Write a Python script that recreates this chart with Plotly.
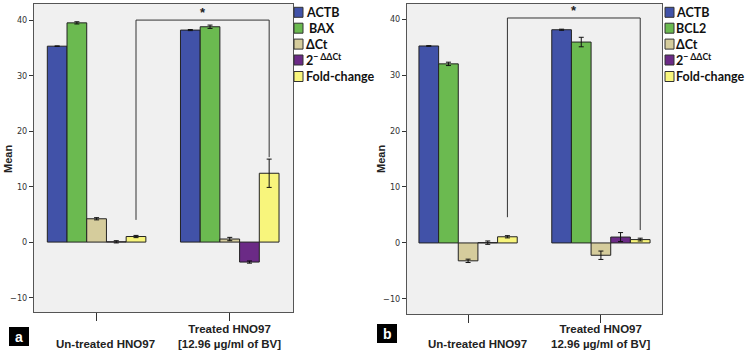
import plotly.graph_objects as go

# ---------------- data ----------------
groups = [0, 1]
group_labels_a = ["Un-treated HNO97", "Treated HNO97<br>[12.96 µg/ml of BV]"]
group_labels_b = ["Un-treated HNO97", "Treated HNO97<br>12.96 µg/ml of BV]"]

series_a = ["ACTB", " BAX", "ΔCt", "2<sup>− ΔΔCt</sup>", "Fold-change"]
series_b = ["ACTB", "BCL2", "ΔCt", "2<sup>− ΔΔCt</sup>", "Fold-change"]
colors = ["#4152A8", "#6BBA50", "#D5CC9C", "#6B2A86", "#F8F57C"]

# panel a means and errors (per series: [untreated, treated])
actb_a = [35.3, 38.2]
bax_a = [39.5, 38.8]
dct_a = [4.2, 0.55]
ddct_a = [0.05, -3.6]
fold_a = [1.0, 12.4]
actb_a_err = [0.05, 0.1]
bax_a_err = [0.2, 0.3]
dct_a_err = [0.2, 0.3]
ddct_a_err = [0.2, 0.2]
fold_a_err = [0.2, 2.55]

# panel b means and errors
actb_b = [35.2, 38.1]
bcl2_b = [32.0, 35.9]
dct_b = [-3.2, -2.2]
ddct_b = [0.05, 1.05]
fold_b = [1.1, 0.6]
actb_b_err = [0.05, 0.1]
bcl2_b_err = [0.3, 0.85]
dct_b_err = [0.3, 0.75]
ddct_b_err = [0.3, 0.8]
fold_b_err = [0.2, 0.25]

# significance brackets: [left foot, top, right foot]
sig_a = [4.0, 40.0, 15.3]
sig_b = [4.6, 40.2, 2.3]

y_ticks = [-10, 0, 10, 20, 30, 40]

# ---------------- figure ----------------
fig = go.Figure()

BARGAP = 0.26
bar_w = (1 - BARGAP) / 5
fold_offset = 2 * bar_w

def add_panel(vals, errs, names, xa, ya):
    for i, (v, e, n) in enumerate(zip(vals, errs, names)):
        fig.add_trace(go.Bar(
            x=groups, y=v, name=n, xaxis=xa, yaxis=ya,
            marker=dict(color=colors[i], line=dict(color="#222222", width=1)),
            error_y=dict(type="data", array=e, color="#111111", thickness=1, width=2.5),
            showlegend=False,
        ))

vals_a = [actb_a, bax_a, dct_a, ddct_a, fold_a]
errs_a = [actb_a_err, bax_a_err, dct_a_err, ddct_a_err, fold_a_err]
vals_b = [actb_b, bcl2_b, dct_b, ddct_b, fold_b]
errs_b = [actb_b_err, bcl2_b_err, dct_b_err, ddct_b_err, fold_b_err]

add_panel(vals_a, errs_a, series_a, "x", "y")
add_panel(vals_b, errs_b, series_b, "x2", "y2")

W, H = 750, 356
def px(x):
    return x / W
def py(y):
    return 1 - y / H

axis_common = dict(showgrid=False, zeroline=False, showline=True, mirror=True,
                   linecolor="#555555", linewidth=1)
tickfont = dict(family="DejaVu Sans Condensed, Liberation Sans Narrow, Arial", size=9, color="#333333")

fig.update_layout(
    width=W, height=H,
    margin=dict(l=0, r=0, t=0, b=0),
    paper_bgcolor="white",
    plot_bgcolor="#F0F0F0",
    barmode="group", bargap=BARGAP, bargroupgap=0,
    showlegend=False,
    xaxis=dict(domain=[px(34), px(293)], range=[-0.47, 1.475], anchor="y",
               tickvals=groups, showticklabels=False, ticks="outside", ticklen=8,
               tickcolor="#333333", **axis_common),
    yaxis=dict(domain=[py(312), py(4)], range=[-12.6, 42.9], anchor="x",
               tickvals=y_ticks, ticks="outside", ticklen=4, tickcolor="#333333",
               tickfont=tickfont, **axis_common),
    xaxis2=dict(domain=[px(407), px(662)], range=[-0.46, 1.46], anchor="y2",
                tickvals=groups, showticklabels=False, ticks="outside", ticklen=8,
                tickcolor="#333333", **axis_common),
    yaxis2=dict(domain=[py(314), py(4)], range=[-12.7, 42.7], anchor="x2",
                tickvals=y_ticks, ticks="outside", ticklen=4, tickcolor="#333333",
                tickfont=tickfont, **axis_common),
)

# significance brackets
for xr, yr, s in [("x", "y", sig_a), ("x2", "y2", sig_b)]:
    xl = groups[0] + fold_offset
    xrr = groups[1] + fold_offset
    fig.add_shape(type="path", xref=xr, yref=yr,
                  path=f"M {xl},{s[0]} L {xl},{s[1]} L {xrr},{s[1]} L {xrr},{s[2]}",
                  line=dict(color="#333333", width=1))
    fig.add_annotation(x=(xl + xrr) / 2, y=s[1], xref=xr, yref=yr, text="<b>*</b>",
                       showarrow=False, yanchor="bottom", yshift=-2,
                       font=dict(family="Liberation Sans, Arial", size=13, color="#222222"))

# x tick labels (bottom-aligned)
lab_font = dict(family="Liberation Sans, Arial", size=11.5, color="#222222")
for xr, labels, shifts in [("x", group_labels_a, [9, 0]), ("x2", group_labels_b, [9, 0])]:
    for g, lab, sh in zip(groups, labels, shifts):
        fig.add_annotation(x=g, y=py(352), xref=xr, yref="paper", text=f"<b>{lab}</b>",
                           showarrow=False, yanchor="bottom", xanchor="center", xshift=sh,
                           font=lab_font, align="center")

# y axis titles
for xpos in [8, 381]:
    fig.add_annotation(x=px(xpos), y=py(159), xref="paper", yref="paper", text="<b>Mean</b>",
                       textangle=-90, showarrow=False, xanchor="center", yanchor="middle",
                       font=dict(family="Liberation Sans, Arial", size=11, color="#222222"))

# legends
leg_rows = [12.3, 28.2, 44.1, 60.0, 76.5]
for names, sq_x, tx in [(series_a, 294, 306), (series_b, 665, 676)]:
    for i, n in enumerate(names):
        yc = leg_rows[i]
        fig.add_shape(type="rect", xref="paper", yref="paper",
                      x0=px(sq_x), x1=px(sq_x + 9), y0=py(yc + 5), y1=py(yc - 5),
                      fillcolor=colors[i], line=dict(color="#333333", width=1))
        fig.add_annotation(x=px(tx), y=py(yc), xref="paper", yref="paper", text=f"<b>{n}</b>",
                           showarrow=False, xanchor="left", yanchor="middle", xshift=-2,
                           font=dict(family="Lato, Carlito, Arial", size=12.5, color="#111111"))

# panel letters
for letter, x0, y0 in [("a", 9, 327), ("b", 377, 324)]:
    fig.add_shape(type="rect", xref="paper", yref="paper",
                  x0=px(x0), x1=px(x0 + 20), y0=py(y0 + 19), y1=py(y0),
                  fillcolor="black", line=dict(width=0))
    fig.add_annotation(x=px(x0 + 10), y=py(y0 + 9.5), xref="paper", yref="paper",
                       text=f"<b>{letter}</b>", showarrow=False, xanchor="center", yanchor="middle",
                       font=dict(family="Liberation Sans, Arial", size=14, color="white"))

fig.write_html("out.html")
